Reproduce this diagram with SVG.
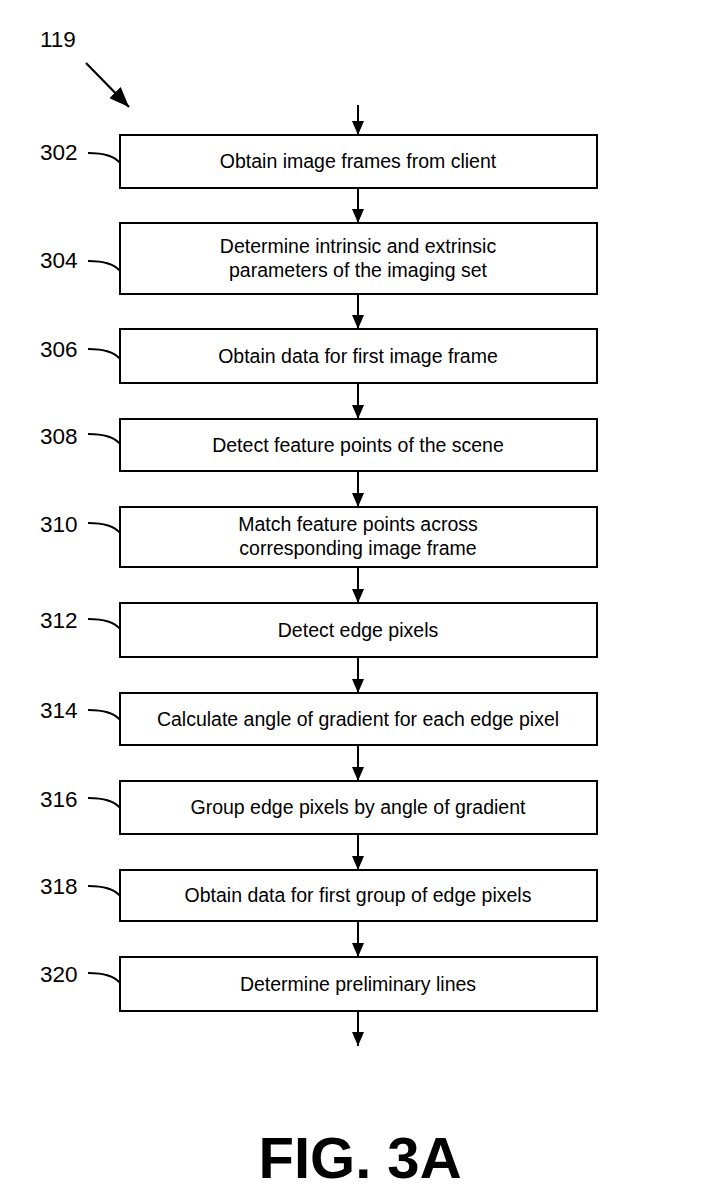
<svg xmlns="http://www.w3.org/2000/svg" width="710" height="1204" viewBox="0 0 710 1204">
<defs>
<marker id="ah" viewBox="0 0 14 12" refX="14" refY="6" markerWidth="14" markerHeight="12" markerUnits="userSpaceOnUse" orient="auto">
<path d="M0,0 L14,6 L0,12 Z" fill="#000"/>
</marker>
<marker id="ahb" viewBox="0 0 20 16" refX="20" refY="8" markerWidth="20" markerHeight="16" markerUnits="userSpaceOnUse" orient="auto">
<path d="M0,0 L20,8 L0,16 Z" fill="#000"/>
</marker>
<style>
.box{fill:#fff;stroke:#000;stroke-width:2}
.t{font-family:"Liberation Sans",Arial,sans-serif;font-size:19.5px;fill:#000;text-anchor:middle}
.lbl{font-family:"Liberation Sans",Arial,sans-serif;font-size:22.5px;fill:#000}
.ld{fill:none;stroke:#000;stroke-width:1.8}
.ar{stroke:#000;stroke-width:2;fill:none;marker-end:url(#ah)}
.fig{font-family:"Liberation Sans",Arial,sans-serif;font-size:58px;font-weight:bold;fill:#000;text-anchor:middle}
</style>
</defs>
<rect width="710" height="1204" fill="#fff"/>

<g id="ref119">
<text class="lbl" x="40" y="47">119</text>
<line x1="86" y1="63" x2="129" y2="107" stroke="#000" stroke-width="2.2" marker-end="url(#ahb)"/>
</g>

<g id="connectors">
<line class="ar" x1="358" y1="105" x2="358" y2="135"/>
<line class="ar" x1="358" y1="188" x2="358" y2="223"/>
<line class="ar" x1="358" y1="294" x2="358" y2="329"/>
<line class="ar" x1="358" y1="383" x2="358" y2="419"/>
<line class="ar" x1="358" y1="471" x2="358" y2="507"/>
<line class="ar" x1="358" y1="567" x2="358" y2="603"/>
<line class="ar" x1="358" y1="657" x2="358" y2="693"/>
<line class="ar" x1="358" y1="745" x2="358" y2="781"/>
<line class="ar" x1="358" y1="834" x2="358" y2="870"/>
<line class="ar" x1="358" y1="921" x2="358" y2="957"/>
<line class="ar" x1="358" y1="1011" x2="358" y2="1046"/>
</g>

<g id="n302">
<rect class="box" x="120" y="135" width="477" height="53"/>
<text class="t" x="358" y="168">Obtain image frames from client</text>
<text class="lbl" x="40" y="160">302</text>
<path class="ld" d="M88,153 Q112,153 120,163"/>
</g>
<g id="n304">
<rect class="box" x="120" y="223" width="477" height="71"/>
<text class="t" x="358" y="253">Determine intrinsic and extrinsic</text>
<text class="t" x="358" y="277">parameters of the imaging set</text>
<text class="lbl" x="40" y="268">304</text>
<path class="ld" d="M88,261 Q112,261 120,271"/>
</g>
<g id="n306">
<rect class="box" x="120" y="329" width="477" height="54"/>
<text class="t" x="358" y="363">Obtain data for first image frame</text>
<text class="lbl" x="40" y="357">306</text>
<path class="ld" d="M88,349 Q112,349 120,359"/>
</g>
<g id="n308">
<rect class="box" x="120" y="419" width="477" height="52"/>
<text class="t" x="358" y="452">Detect feature points of the scene</text>
<text class="lbl" x="40" y="444">308</text>
<path class="ld" d="M88,434 Q112,434 120,444"/>
</g>
<g id="n310">
<rect class="box" x="120" y="507" width="477" height="60"/>
<text class="t" x="358" y="531">Match feature points across</text>
<text class="t" x="358" y="555">corresponding image frame</text>
<text class="lbl" x="40" y="532">310</text>
<path class="ld" d="M88,523 Q112,523 120,533"/>
</g>
<g id="n312">
<rect class="box" x="120" y="603" width="477" height="54"/>
<text class="t" x="358" y="637">Detect edge pixels</text>
<text class="lbl" x="40" y="628">312</text>
<path class="ld" d="M88,619 Q112,619 120,629"/>
</g>
<g id="n314">
<rect class="box" x="120" y="693" width="477" height="52"/>
<text class="t" x="358" y="726">Calculate angle of gradient for each edge pixel</text>
<text class="lbl" x="40" y="718">314</text>
<path class="ld" d="M88,710 Q112,710 120,720"/>
</g>
<g id="n316">
<rect class="box" x="120" y="781" width="477" height="53"/>
<text class="t" x="358" y="814">Group edge pixels by angle of gradient</text>
<text class="lbl" x="40" y="807">316</text>
<path class="ld" d="M88,798 Q112,798 120,808"/>
</g>
<g id="n318">
<rect class="box" x="120" y="870" width="477" height="51"/>
<text class="t" x="358" y="902">Obtain data for first group of edge pixels</text>
<text class="lbl" x="40" y="894">318</text>
<path class="ld" d="M88,886 Q112,886 120,896"/>
</g>
<g id="n320">
<rect class="box" x="120" y="957" width="477" height="54"/>
<text class="t" x="358" y="991">Determine preliminary lines</text>
<text class="lbl" x="40" y="982">320</text>
<path class="ld" d="M88,973 Q112,973 120,983"/>
</g>

<text class="fig" x="360" y="1178">FIG. 3A</text>
</svg>
